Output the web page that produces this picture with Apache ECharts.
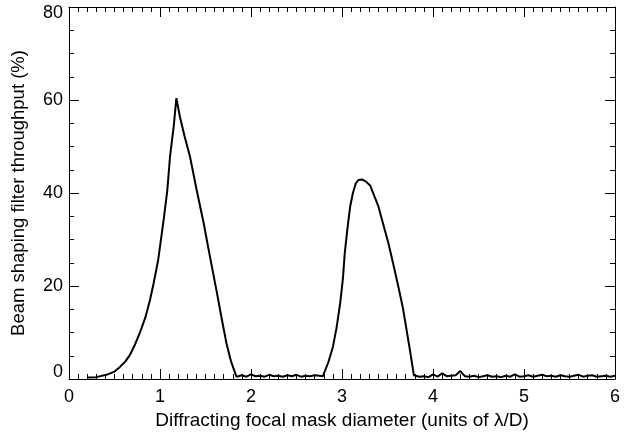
<!DOCTYPE html>
<html>
<head>
<meta charset="utf-8">
<script src="https://cdn.jsdelivr.net/npm/echarts@6/dist/echarts.min.js"></script>
<style>
html,body{margin:0;padding:0;background:#fff;}
#c{width:635px;height:434px;}
</style>
</head>
<body>
<div id="c"></div>
<script>
// ---- data ----
const peak1X = [0.2,0.3,0.41,0.5,0.56,0.62,0.67,0.72,0.78,0.84,0.89,0.93,0.98,1.04,1.08,1.11,1.15,1.18,1.22,1.27,1.33,1.40,1.48,1.55,1.62,1.68,1.73,1.78,1.84];
const peak1Y = [0.3,0.4,0.9,1.6,2.6,3.8,5.2,7.2,10,13.3,17,20.6,25.6,34.2,40.5,47.8,54.2,60.4,56.3,52.2,47.8,40.9,33.5,26.2,19.1,12.8,7.7,3.8,0.5];
const gapX = [1.9,1.95,2.0,2.05,2.1,2.15,2.2,2.25,2.3,2.35,2.4,2.45,2.5,2.55,2.6,2.65,2.7,2.75];
const gapY = [0.8,0.5,1.0,0.6,0.7,0.5,0.9,0.6,0.7,0.5,0.8,0.6,0.9,0.5,0.7,0.6,0.8,0.7];
const peak2X = [2.79,2.85,2.90,2.94,2.98,3.01,3.03,3.06,3.09,3.12,3.15,3.18,3.22,3.26,3.31,3.35,3.40,3.45,3.51,3.56,3.62,3.67,3.71,3.75,3.79];
const peak2Y = [0.6,3.6,6.9,11,16.3,21.6,27,32.4,37.1,40,42,42.8,42.9,42.5,41.6,39.6,37.1,33.5,29.2,25,19.8,15.2,10.5,5.8,0.8];
const tailX = [3.85,3.9,3.95,4.0,4.05,4.1,4.15,4.2,4.25,4.3,4.35,4.4,4.45,4.5,4.55,4.6,4.65,4.7,4.75,4.8,4.85,4.9,4.95,5.0,5.05,5.1,5.15,5.2,5.25,5.3,5.35,5.4,5.45,5.5,5.55,5.6,5.65,5.7,5.75,5.8,5.85,5.9,5.95,6.0];
const tailY = [0.5,0.6,0.4,1.0,0.5,1.2,0.6,0.7,0.8,1.7,0.6,0.5,0.7,0.4,0.6,0.8,0.5,0.6,0.4,0.7,0.5,1.0,0.5,0.6,0.8,0.5,0.7,0.9,0.6,0.7,0.5,0.8,0.6,0.5,0.7,0.9,0.5,0.7,0.8,0.5,0.6,0.7,0.5,0.7];
const yMidLabels = [20,40,60];
const yMinLabel = [0];
const yMaxLabel = [80];
const xTitle = 'Diffracting focal mask diameter (units of λ/D)';
const yTitle = 'Beam shaping filter throughput (%)';

const allX = peak1X.concat(gapX, peak2X, tailX);
const allY = peak1Y.concat(gapY, peak2Y, tailY);
const lineData = allX.map((x, i) => [x, allY[i]]);

const FONT = 'Liberation Sans';
const black = '#000';
const lineSt = {color: black, width: 1};

function xAx(pos, labels) {
  return {
    type: 'value', position: pos, min: 0, max: 6, interval: 1,
    axisLine: {show: true, onZero: false, lineStyle: lineSt},
    axisTick: {show: true, inside: true, length: 10, lineStyle: lineSt},
    minorTick: {show: true, splitNumber: 10, length: 5, lineStyle: lineSt},
    axisLabel: {show: labels, margin: 9, color: black, fontFamily: FONT, fontSize: 18},
    splitLine: {show: false}, minorSplitLine: {show: false},
    name: labels ? xTitle : '', nameLocation: 'middle', nameGap: 28,
    nameTextStyle: {color: black, fontFamily: FONT, fontSize: 19}
  };
}
function yAx(pos, withTicks, labelValues, vAlign, title) {
  return {
    type: 'value', position: pos, min: 0, max: 80, interval: 20,
    axisLine: {show: withTicks, onZero: false, lineStyle: lineSt},
    axisTick: {show: withTicks, inside: true, length: 10, lineStyle: lineSt},
    minorTick: {show: withTicks, splitNumber: 4, length: 5, lineStyle: lineSt},
    axisLabel: labelValues ? {show: true, customValues: labelValues, margin: 6, color: black,
      fontFamily: FONT, fontSize: 18, verticalAlign: vAlign, lineHeight: 13} : {show: false},
    splitLine: {show: false}, minorSplitLine: {show: false},
    name: title || '', nameLocation: 'middle', nameGap: 41,
    nameTextStyle: {color: black, fontFamily: FONT, fontSize: 18.5}
  };
}

const chart = echarts.init(document.getElementById('c'), null, {renderer: 'canvas'});
chart.setOption({
  animation: false,
  backgroundColor: '#fff',
  grid: {left: 69, right: 20, top: 7, bottom: 55, containLabel: false, outerBoundsMode: 'none'},
  xAxis: [xAx('bottom', true), xAx('top', false)],
  yAxis: [
    yAx('left', true, yMidLabels, 'middle', yTitle),
    yAx('left', false, yMinLabel, 'bottom', ''),
    yAx('left', false, yMaxLabel, 'top', ''),
    yAx('right', true, null, 'middle', '')
  ],
  series: [{
    type: 'line', data: lineData, xAxisIndex: 0, yAxisIndex: 0,
    showSymbol: false, symbol: 'none', smooth: false, clip: true,
    lineStyle: {color: black, width: 2}, z: 5
  }]
});
</script>
</body>
</html>
